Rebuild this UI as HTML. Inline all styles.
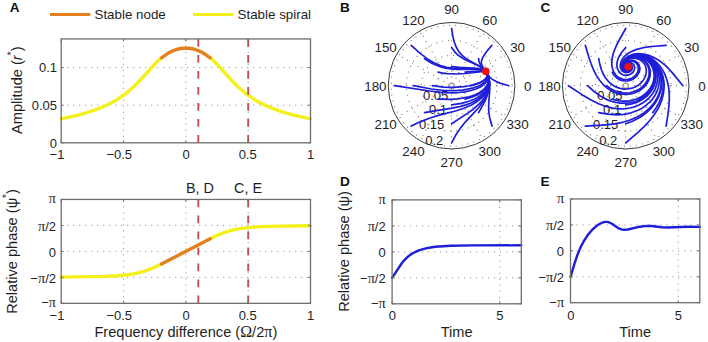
<!DOCTYPE html>
<html><head><meta charset="utf-8"><style>
html,body{margin:0;padding:0;background:#fff;width:708px;height:342px;overflow:hidden}
svg{display:block;font-family:"Liberation Sans",sans-serif}
</style></head><body>
<svg width="708" height="342" viewBox="0 0 708 342">
<rect width="708" height="342" fill="#fff"/>
<text x="9.7" y="11.6" font-size="13.6" text-anchor="start" fill="#111" font-weight="bold">A</text>
<text x="340" y="11.7" font-size="13.6" text-anchor="start" fill="#111" font-weight="bold">B</text>
<text x="540.4" y="11.8" font-size="13.6" text-anchor="start" fill="#111" font-weight="bold">C</text>
<text x="339.9" y="185.8" font-size="13.6" text-anchor="start" fill="#111" font-weight="bold">D</text>
<text x="540.5" y="185.7" font-size="13.6" text-anchor="start" fill="#111" font-weight="bold">E</text>
<line x1="50" y1="14.5" x2="90.3" y2="14.5" stroke="#e4801e" stroke-width="3.2"/>
<text x="94.5" y="19" font-size="13.35" text-anchor="start" fill="#1e1e1e">Stable node</text>
<line x1="193" y1="14.5" x2="233.4" y2="14.5" stroke="#f4f01c" stroke-width="3.2"/>
<text x="237.6" y="19" font-size="13.35" text-anchor="start" fill="#1e1e1e">Stable spiral</text>
<line x1="123.52" y1="142.8" x2="123.52" y2="38.95" stroke="#8a8a8a" stroke-width="1" stroke-dasharray="1 5"/>
<line x1="185.85" y1="142.8" x2="185.85" y2="38.95" stroke="#8a8a8a" stroke-width="1" stroke-dasharray="1 5"/>
<line x1="248.18" y1="142.8" x2="248.18" y2="38.95" stroke="#8a8a8a" stroke-width="1" stroke-dasharray="1 5"/>
<line x1="61.2" y1="105.2" x2="310.5" y2="105.2" stroke="#8a8a8a" stroke-width="1" stroke-dasharray="1 5"/>
<line x1="61.2" y1="67.6" x2="310.5" y2="67.6" stroke="#8a8a8a" stroke-width="1" stroke-dasharray="1 5"/>
<path d="M61.2 118.9 L78.0 115.1 L85.5 113.1 L93.0 110.7 L99.2 108.4 L105.5 105.8 L111.1 103.0 L116.7 99.9 L125.4 93.9 L133.5 87.0 L140.4 80.0 L154.1 64.8 L157.8 61.1 L161.5 57.8" fill="none" stroke="#f4f01c" stroke-width="3.4" stroke-linejoin="round" stroke-linecap="round" stroke-linecap="butt"/>
<path d="M210.2 57.8 L213.9 61.1 L217.6 64.8 L231.3 80.0 L238.2 87.0 L246.3 93.9 L255.0 99.9 L260.6 103.0 L266.2 105.8 L272.5 108.4 L278.7 110.7 L286.2 113.1 L293.7 115.1 L310.5 118.9" fill="none" stroke="#f4f01c" stroke-width="3.4" stroke-linejoin="round" stroke-linecap="round" stroke-linecap="butt"/>
<path d="M161.5 57.8 L167.2 53.8 L170.3 52.0 L173.4 50.6 L176.5 49.5 L179.6 48.7 L182.7 48.2 L185.8 48.1 L189.0 48.2 L192.1 48.7 L195.2 49.5 L198.3 50.6 L201.4 52.0 L204.5 53.8 L210.2 57.8" fill="none" stroke="#e4801e" stroke-width="3.4" stroke-linejoin="round" stroke-linecap="round" stroke-linecap="butt"/>
<line x1="198.31" y1="38.95" x2="198.31" y2="142.8" stroke="#c44a50" stroke-width="1.8" stroke-dasharray="7.8 8.2"/>
<line x1="248.18" y1="38.95" x2="248.18" y2="142.8" stroke="#c44a50" stroke-width="1.8" stroke-dasharray="7.8 8.2"/>
<rect x="61.2" y="38.95" width="249.3" height="103.85" fill="none" stroke="#6e6e6e" stroke-width="1.3"/>
<line x1="61.2" y1="142.8" x2="61.2" y2="140.3" stroke="#6e6e6e" stroke-width="1"/>
<line x1="61.2" y1="38.95" x2="61.2" y2="41.45" stroke="#6e6e6e" stroke-width="1"/>
<line x1="123.52" y1="142.8" x2="123.52" y2="140.3" stroke="#6e6e6e" stroke-width="1"/>
<line x1="123.52" y1="38.95" x2="123.52" y2="41.45" stroke="#6e6e6e" stroke-width="1"/>
<line x1="185.85" y1="142.8" x2="185.85" y2="140.3" stroke="#6e6e6e" stroke-width="1"/>
<line x1="185.85" y1="38.95" x2="185.85" y2="41.45" stroke="#6e6e6e" stroke-width="1"/>
<line x1="248.18" y1="142.8" x2="248.18" y2="140.3" stroke="#6e6e6e" stroke-width="1"/>
<line x1="248.18" y1="38.95" x2="248.18" y2="41.45" stroke="#6e6e6e" stroke-width="1"/>
<line x1="310.5" y1="142.8" x2="310.5" y2="140.3" stroke="#6e6e6e" stroke-width="1"/>
<line x1="310.5" y1="38.95" x2="310.5" y2="41.45" stroke="#6e6e6e" stroke-width="1"/>
<line x1="61.2" y1="142.8" x2="63.7" y2="142.8" stroke="#6e6e6e" stroke-width="1"/>
<line x1="310.5" y1="142.8" x2="308" y2="142.8" stroke="#6e6e6e" stroke-width="1"/>
<line x1="61.2" y1="105.2" x2="63.7" y2="105.2" stroke="#6e6e6e" stroke-width="1"/>
<line x1="310.5" y1="105.2" x2="308" y2="105.2" stroke="#6e6e6e" stroke-width="1"/>
<line x1="61.2" y1="67.6" x2="63.7" y2="67.6" stroke="#6e6e6e" stroke-width="1"/>
<line x1="310.5" y1="67.6" x2="308" y2="67.6" stroke="#6e6e6e" stroke-width="1"/>
<text x="57" y="159.1" font-size="13" text-anchor="middle" fill="#1e1e1e">−1</text>
<text x="119.22" y="159.1" font-size="13" text-anchor="middle" fill="#1e1e1e">−0.5</text>
<text x="186.1" y="159.1" font-size="13" text-anchor="middle" fill="#1e1e1e">0</text>
<text x="247.68" y="159.1" font-size="13" text-anchor="middle" fill="#1e1e1e">0.5</text>
<text x="310.5" y="159.1" font-size="13" text-anchor="middle" fill="#1e1e1e">1</text>
<text x="57" y="147.5" font-size="13" text-anchor="end" fill="#1e1e1e">0</text>
<text x="57" y="109.9" font-size="13" text-anchor="end" fill="#1e1e1e">0.05</text>
<text x="57" y="72.3" font-size="13" text-anchor="end" fill="#1e1e1e">0.1</text>
<text x="22.2" y="90.2" font-size="14.6" text-anchor="middle" fill="#1e1e1e" transform="rotate(-90 22.2 90.2)">Amplitude (<tspan font-style="italic">r</tspan><tspan dy="-7.3" font-size="10">*</tspan><tspan dy="7.3">)</tspan></text>
<line x1="123.52" y1="303.35" x2="123.52" y2="199.45" stroke="#8a8a8a" stroke-width="1" stroke-dasharray="1 5"/>
<line x1="185.85" y1="303.35" x2="185.85" y2="199.45" stroke="#8a8a8a" stroke-width="1" stroke-dasharray="1 5"/>
<line x1="248.18" y1="303.35" x2="248.18" y2="199.45" stroke="#8a8a8a" stroke-width="1" stroke-dasharray="1 5"/>
<line x1="61.2" y1="277.38" x2="310.5" y2="277.38" stroke="#8a8a8a" stroke-width="1" stroke-dasharray="1 5"/>
<line x1="61.2" y1="251.4" x2="310.5" y2="251.4" stroke="#8a8a8a" stroke-width="1" stroke-dasharray="1 5"/>
<line x1="61.2" y1="225.43" x2="310.5" y2="225.43" stroke="#8a8a8a" stroke-width="1" stroke-dasharray="1 5"/>
<path d="M61.2 277.1 L104.8 276.4 L117.9 275.7 L128.5 274.7 L137.2 273.2 L144.7 271.2 L152.2 268.4 L161.5 264.0" fill="none" stroke="#f4f01c" stroke-width="3.4" stroke-linejoin="round" stroke-linecap="round" stroke-linecap="butt"/>
<path d="M210.2 238.8 L219.5 234.4 L227.0 231.6 L234.5 229.6 L243.2 228.1 L253.8 227.1 L266.9 226.4 L310.5 225.7" fill="none" stroke="#f4f01c" stroke-width="3.4" stroke-linejoin="round" stroke-linecap="round" stroke-linecap="butt"/>
<path d="M161.5 264.0 L210.2 238.8" fill="none" stroke="#e4801e" stroke-width="3.4" stroke-linejoin="round" stroke-linecap="round" stroke-linecap="butt"/>
<line x1="198.31" y1="199.45" x2="198.31" y2="303.35" stroke="#c44a50" stroke-width="1.8" stroke-dasharray="7.8 8.2"/>
<line x1="248.18" y1="199.45" x2="248.18" y2="303.35" stroke="#c44a50" stroke-width="1.8" stroke-dasharray="7.8 8.2"/>
<rect x="61.2" y="199.45" width="249.3" height="103.9" fill="none" stroke="#6e6e6e" stroke-width="1.3"/>
<line x1="61.2" y1="303.35" x2="61.2" y2="300.85" stroke="#6e6e6e" stroke-width="1"/>
<line x1="61.2" y1="199.45" x2="61.2" y2="201.95" stroke="#6e6e6e" stroke-width="1"/>
<line x1="123.52" y1="303.35" x2="123.52" y2="300.85" stroke="#6e6e6e" stroke-width="1"/>
<line x1="123.52" y1="199.45" x2="123.52" y2="201.95" stroke="#6e6e6e" stroke-width="1"/>
<line x1="185.85" y1="303.35" x2="185.85" y2="300.85" stroke="#6e6e6e" stroke-width="1"/>
<line x1="185.85" y1="199.45" x2="185.85" y2="201.95" stroke="#6e6e6e" stroke-width="1"/>
<line x1="248.18" y1="303.35" x2="248.18" y2="300.85" stroke="#6e6e6e" stroke-width="1"/>
<line x1="248.18" y1="199.45" x2="248.18" y2="201.95" stroke="#6e6e6e" stroke-width="1"/>
<line x1="310.5" y1="303.35" x2="310.5" y2="300.85" stroke="#6e6e6e" stroke-width="1"/>
<line x1="310.5" y1="199.45" x2="310.5" y2="201.95" stroke="#6e6e6e" stroke-width="1"/>
<line x1="61.2" y1="303.35" x2="63.7" y2="303.35" stroke="#6e6e6e" stroke-width="1"/>
<line x1="310.5" y1="303.35" x2="308" y2="303.35" stroke="#6e6e6e" stroke-width="1"/>
<line x1="61.2" y1="277.38" x2="63.7" y2="277.38" stroke="#6e6e6e" stroke-width="1"/>
<line x1="310.5" y1="277.38" x2="308" y2="277.38" stroke="#6e6e6e" stroke-width="1"/>
<line x1="61.2" y1="251.4" x2="63.7" y2="251.4" stroke="#6e6e6e" stroke-width="1"/>
<line x1="310.5" y1="251.4" x2="308" y2="251.4" stroke="#6e6e6e" stroke-width="1"/>
<line x1="61.2" y1="225.43" x2="63.7" y2="225.43" stroke="#6e6e6e" stroke-width="1"/>
<line x1="310.5" y1="225.43" x2="308" y2="225.43" stroke="#6e6e6e" stroke-width="1"/>
<line x1="61.2" y1="199.45" x2="63.7" y2="199.45" stroke="#6e6e6e" stroke-width="1"/>
<line x1="310.5" y1="199.45" x2="308" y2="199.45" stroke="#6e6e6e" stroke-width="1"/>
<text x="57" y="319.5" font-size="13" text-anchor="middle" fill="#1e1e1e">−1</text>
<text x="119.22" y="319.5" font-size="13" text-anchor="middle" fill="#1e1e1e">−0.5</text>
<text x="186.1" y="319.5" font-size="13" text-anchor="middle" fill="#1e1e1e">0</text>
<text x="247.68" y="319.5" font-size="13" text-anchor="middle" fill="#1e1e1e">0.5</text>
<text x="310.5" y="319.5" font-size="13" text-anchor="middle" fill="#1e1e1e">1</text>
<text x="56" y="203.45" font-size="13" text-anchor="end" fill="#1e1e1e"><tspan font-family="Liberation Serif" font-size="1.1em">π</tspan></text>
<text x="56" y="230.62" font-size="13" text-anchor="end" fill="#1e1e1e"><tspan font-family="Liberation Serif" font-size="1.1em">π</tspan>/2</text>
<text x="56" y="256.6" font-size="13" text-anchor="end" fill="#1e1e1e">0</text>
<text x="56" y="282.57" font-size="13" text-anchor="end" fill="#1e1e1e">−<tspan font-family="Liberation Serif" font-size="1.1em">π</tspan>/2</text>
<text x="56" y="307.35" font-size="13" text-anchor="end" fill="#1e1e1e">−<tspan font-family="Liberation Serif" font-size="1.1em">π</tspan></text>
<text x="199.9" y="193.1" font-size="14.4" text-anchor="middle" fill="#1e1e1e">B, D</text>
<text x="248" y="193.1" font-size="14.4" text-anchor="middle" fill="#1e1e1e">C, E</text>
<text x="185.85" y="336.6" font-size="14.6" text-anchor="middle" fill="#1e1e1e">Frequency difference (<tspan font-family="Liberation Serif" font-size="1.1em">Ω</tspan>/2<tspan font-family="Liberation Serif" font-size="1.1em">π</tspan>)</text>
<text x="17.3" y="251.5" font-size="14.6" text-anchor="middle" fill="#1e1e1e" transform="rotate(-90 17.3 251.5)">Relative phase (ψ<tspan dy="-7.3" font-size="10">*</tspan><tspan dy="7.3">)</tspan></text>
<circle cx="451.6" cy="85.7" r="63.3" fill="none" stroke="#3a3a3a" stroke-width="1.0"/>
<circle cx="451.6" cy="85.7" r="15.12" fill="none" stroke="#777" stroke-width="1.2" stroke-linecap="round" stroke-dasharray="0.01 6"/>
<circle cx="451.6" cy="85.7" r="30.25" fill="none" stroke="#777" stroke-width="1.2" stroke-linecap="round" stroke-dasharray="0.01 6"/>
<circle cx="451.6" cy="85.7" r="45.38" fill="none" stroke="#777" stroke-width="1.2" stroke-linecap="round" stroke-dasharray="0.01 6"/>
<circle cx="451.6" cy="85.7" r="60.5" fill="none" stroke="#777" stroke-width="1.2" stroke-linecap="round" stroke-dasharray="0.01 6"/>
<line x1="388.3" y1="85.7" x2="514.9" y2="85.7" stroke="#777" stroke-width="1.2" stroke-dasharray="0.01 6" stroke-linecap="round"/>
<line x1="396.78" y1="117.35" x2="506.42" y2="54.05" stroke="#777" stroke-width="1.2" stroke-dasharray="0.01 6" stroke-linecap="round"/>
<line x1="419.95" y1="140.52" x2="483.25" y2="30.88" stroke="#777" stroke-width="1.2" stroke-dasharray="0.01 6" stroke-linecap="round"/>
<line x1="451.6" y1="149" x2="451.6" y2="22.4" stroke="#777" stroke-width="1.2" stroke-dasharray="0.01 6" stroke-linecap="round"/>
<line x1="483.25" y1="140.52" x2="419.95" y2="30.88" stroke="#777" stroke-width="1.2" stroke-dasharray="0.01 6" stroke-linecap="round"/>
<line x1="506.42" y1="117.35" x2="396.78" y2="54.05" stroke="#777" stroke-width="1.2" stroke-dasharray="0.01 6" stroke-linecap="round"/>
<circle cx="451.6" cy="85.7" r="2.5" fill="none" stroke="#888" stroke-width="0.8"/>
<text x="527.8" y="90.5" font-size="13.4" text-anchor="middle" fill="#1e1e1e">0</text>
<text x="517.59" y="52.4" font-size="13.4" text-anchor="middle" fill="#1e1e1e">30</text>
<text x="489.7" y="24.51" font-size="13.4" text-anchor="middle" fill="#1e1e1e">60</text>
<text x="451.6" y="14.3" font-size="13.4" text-anchor="middle" fill="#1e1e1e">90</text>
<text x="413.5" y="24.51" font-size="13.4" text-anchor="middle" fill="#1e1e1e">120</text>
<text x="385.61" y="52.4" font-size="13.4" text-anchor="middle" fill="#1e1e1e">150</text>
<text x="375.4" y="90.5" font-size="13.4" text-anchor="middle" fill="#1e1e1e">180</text>
<text x="385.61" y="128.6" font-size="13.4" text-anchor="middle" fill="#1e1e1e">210</text>
<text x="413.5" y="156.49" font-size="13.4" text-anchor="middle" fill="#1e1e1e">240</text>
<text x="451.6" y="166.7" font-size="13.4" text-anchor="middle" fill="#1e1e1e">270</text>
<text x="489.7" y="156.49" font-size="13.4" text-anchor="middle" fill="#1e1e1e">300</text>
<text x="517.59" y="128.6" font-size="13.4" text-anchor="middle" fill="#1e1e1e">330</text>
<text x="435.7" y="100.1" font-size="13" text-anchor="middle" fill="#1e1e1e">0.05</text>
<text x="438" y="113.9" font-size="13" text-anchor="middle" fill="#1e1e1e">0.1</text>
<text x="431.6" y="129.2" font-size="13" text-anchor="middle" fill="#1e1e1e">0.15</text>
<text x="434.2" y="144.6" font-size="13" text-anchor="middle" fill="#1e1e1e">0.2</text>
<path d="M470.7 85.7 L475.6 84.4 L479.5 82.9 L482.7 81.2 L485.2 79.4 L486.7 77.5 L487.3 75.6 L487.0 73.6 L485.8 71.4" fill="none" stroke="#1e1ed8" stroke-width="1.7" stroke-linejoin="round" stroke-linecap="round"/>
<path d="M465.1 72.2 L482.1 70.9 L484.8 70.9 L485.8 71.4" fill="none" stroke="#1e1ed8" stroke-width="1.7" stroke-linejoin="round" stroke-linecap="round"/>
<path d="M451.6 66.6 L459.2 67.4 L473.9 68.0 L479.1 68.5 L483.6 69.6 L484.9 70.4 L485.8 71.4" fill="none" stroke="#1e1ed8" stroke-width="1.7" stroke-linejoin="round" stroke-linecap="round"/>
<path d="M438.1 72.2 L442.6 73.1 L446.9 73.7 L456.5 74.0 L465.6 73.5 L483.6 71.4 L485.8 71.4" fill="none" stroke="#1e1ed8" stroke-width="1.7" stroke-linejoin="round" stroke-linecap="round"/>
<path d="M432.5 85.7 L443.4 87.1 L453.3 87.4 L463.7 86.7 L468.3 86.0 L473.0 84.9 L477.1 83.6 L480.7 82.2 L483.5 80.5 L485.6 78.8 L486.8 77.1 L487.2 75.3 L486.9 73.4 L485.8 71.4" fill="none" stroke="#1e1ed8" stroke-width="1.7" stroke-linejoin="round" stroke-linecap="round"/>
<path d="M438.1 99.2 L451.6 99.3 L457.1 98.9 L462.4 98.2 L467.5 97.2 L471.6 96.1 L475.8 94.5 L479.3 92.7 L482.5 90.5 L485.0 88.0 L486.9 85.5 L488.0 82.9 L488.5 80.0 L488.3 77.1 L487.4 74.2 L485.8 71.4" fill="none" stroke="#1e1ed8" stroke-width="1.7" stroke-linejoin="round" stroke-linecap="round"/>
<path d="M451.6 104.8 L461.4 103.3 L466.0 102.2 L470.2 100.8 L474.1 99.2 L477.5 97.4 L480.4 95.5 L483.1 93.2 L485.3 90.7 L486.9 88.3 L488.0 85.6 L488.7 82.7 L488.8 79.8 L488.3 76.9 L487.3 74.0 L485.8 71.4" fill="none" stroke="#1e1ed8" stroke-width="1.7" stroke-linejoin="round" stroke-linecap="round"/>
<path d="M465.1 99.2 L471.7 97.3 L477.7 94.7 L482.3 91.7 L484.2 89.9 L485.7 88.2 L487.0 86.2 L487.9 84.1 L488.4 82.0 L488.6 79.9 L488.5 77.8 L487.9 75.6 L487.0 73.4 L485.8 71.4" fill="none" stroke="#1e1ed8" stroke-width="1.7" stroke-linejoin="round" stroke-linecap="round"/>
<path d="M489.7 85.7 L489.5 81.6 L488.7 77.8 L487.5 74.4 L485.8 71.4" fill="none" stroke="#1e1ed8" stroke-width="1.7" stroke-linejoin="round" stroke-linecap="round"/>
<path d="M478.6 58.7 L479.0 61.5 L480.1 64.1 L481.7 66.4 L485.8 71.4" fill="none" stroke="#1e1ed8" stroke-width="1.7" stroke-linejoin="round" stroke-linecap="round"/>
<path d="M451.6 47.6 L455.2 52.4 L457.6 54.8 L460.0 56.6 L465.6 59.9 L476.4 64.7 L480.2 66.6 L483.6 68.9 L485.8 71.4" fill="none" stroke="#1e1ed8" stroke-width="1.7" stroke-linejoin="round" stroke-linecap="round"/>
<path d="M424.6 58.7 L430.0 62.2 L435.2 64.8 L440.3 66.7 L445.6 68.1 L451.2 68.9 L457.1 69.3 L480.4 69.4 L484.0 70.1 L485.1 70.6 L485.8 71.4" fill="none" stroke="#1e1ed8" stroke-width="1.7" stroke-linejoin="round" stroke-linecap="round"/>
<path d="M413.5 85.7 L431.3 89.0 L444.0 90.5 L450.4 90.7 L456.1 90.6 L462.4 90.1 L467.8 89.2 L473.3 87.9 L478.3 86.2 L482.3 84.0 L485.1 81.8 L486.9 79.5 L487.7 76.9 L487.3 74.2 L485.8 71.4" fill="none" stroke="#1e1ed8" stroke-width="1.7" stroke-linejoin="round" stroke-linecap="round"/>
<path d="M424.6 112.7 L433.2 111.1 L452.2 108.2 L460.7 106.4 L466.0 104.9 L470.3 103.3 L474.1 101.5 L478.0 99.2 L481.8 96.2 L484.7 93.1 L486.9 89.6 L488.3 86.1 L488.9 82.3 L488.7 78.5 L487.7 74.8 L485.8 71.4" fill="none" stroke="#1e1ed8" stroke-width="1.7" stroke-linejoin="round" stroke-linecap="round"/>
<path d="M451.6 123.8 L467.8 113.1 L473.9 108.7 L480.0 103.2 L482.3 100.5 L484.5 97.5 L486.4 94.3 L487.9 90.8 L488.8 87.4 L489.2 83.9 L489.1 80.5 L488.5 77.2 L487.4 74.2 L485.8 71.4" fill="none" stroke="#1e1ed8" stroke-width="1.7" stroke-linejoin="round" stroke-linecap="round"/>
<path d="M478.6 112.7 L483.1 104.7 L485.8 99.3 L487.8 94.0 L489.0 89.2 L489.5 84.2 L489.1 79.5 L487.8 75.2 L485.8 71.4" fill="none" stroke="#1e1ed8" stroke-width="1.7" stroke-linejoin="round" stroke-linecap="round"/>
<path d="M508.8 85.7 L500.0 83.1 L496.4 81.6 L493.5 80.1 L491.4 78.6 L489.5 76.8 L485.8 71.4" fill="none" stroke="#1e1ed8" stroke-width="1.7" stroke-linejoin="round" stroke-linecap="round"/>
<path d="M492.0 45.3 L487.8 50.1 L484.9 53.9 L482.8 57.4 L481.6 60.5 L481.3 63.0 L481.9 65.5 L483.1 67.7 L485.8 71.4" fill="none" stroke="#1e1ed8" stroke-width="1.7" stroke-linejoin="round" stroke-linecap="round"/>
<path d="M451.6 28.5 L452.9 36.6 L454.5 42.9 L456.8 48.3 L459.4 52.4 L462.1 55.3 L465.3 57.9 L469.2 60.4 L480.9 66.9 L483.8 69.1 L485.8 71.4" fill="none" stroke="#1e1ed8" stroke-width="1.7" stroke-linejoin="round" stroke-linecap="round"/>
<path d="M411.2 45.3 L419.6 52.9 L427.1 58.7 L434.0 62.8 L440.4 65.6 L446.7 67.3 L454.1 68.3 L461.2 68.7 L475.8 68.8 L480.6 69.2 L484.1 70.0 L485.1 70.6 L485.8 71.4" fill="none" stroke="#1e1ed8" stroke-width="1.7" stroke-linejoin="round" stroke-linecap="round"/>
<path d="M394.4 85.7 L429.5 91.0 L440.8 92.3 L447.4 92.7 L453.2 92.8 L459.0 92.5 L464.7 91.8 L471.1 90.5 L476.6 88.7 L481.3 86.4 L484.8 83.7 L487.0 81.0 L487.6 79.5 L487.9 77.9 L487.9 76.4 L487.5 74.7 L485.8 71.4" fill="none" stroke="#1e1ed8" stroke-width="1.7" stroke-linejoin="round" stroke-linecap="round"/>
<path d="M411.2 126.1 L420.7 121.6 L430.1 118.0 L438.4 115.4 L456.4 110.7 L464.6 108.0 L471.9 104.8 L477.8 101.1 L481.7 97.9 L484.6 94.6 L486.9 90.9 L488.4 86.8 L489.1 82.9 L488.8 78.8 L487.7 74.9 L485.8 71.4" fill="none" stroke="#1e1ed8" stroke-width="1.7" stroke-linejoin="round" stroke-linecap="round"/>
<path d="M451.6 142.9 L456.0 134.7 L460.4 128.1 L465.5 121.8 L475.5 111.2 L479.6 106.5 L483.4 101.3 L486.2 96.2 L487.6 93.0 L488.6 89.6 L489.2 86.4 L489.4 83.1 L489.1 79.9 L488.4 76.8 L487.3 73.9 L485.8 71.4" fill="none" stroke="#1e1ed8" stroke-width="1.7" stroke-linejoin="round" stroke-linecap="round"/>
<path d="M492.0 126.1 L489.7 117.9 L489.1 113.9 L488.7 109.8 L488.7 103.3 L489.8 89.2 L489.6 82.5 L489.1 79.3 L488.3 76.4 L487.2 73.7 L485.8 71.4" fill="none" stroke="#1e1ed8" stroke-width="1.7" stroke-linejoin="round" stroke-linecap="round"/>
<circle cx="485.84" cy="71.4" r="3.8" fill="#f01010"/>
<circle cx="625.7" cy="85.7" r="63.3" fill="none" stroke="#3a3a3a" stroke-width="1.0"/>
<circle cx="625.7" cy="85.7" r="15.12" fill="none" stroke="#777" stroke-width="1.2" stroke-linecap="round" stroke-dasharray="0.01 6"/>
<circle cx="625.7" cy="85.7" r="30.25" fill="none" stroke="#777" stroke-width="1.2" stroke-linecap="round" stroke-dasharray="0.01 6"/>
<circle cx="625.7" cy="85.7" r="45.38" fill="none" stroke="#777" stroke-width="1.2" stroke-linecap="round" stroke-dasharray="0.01 6"/>
<circle cx="625.7" cy="85.7" r="60.5" fill="none" stroke="#777" stroke-width="1.2" stroke-linecap="round" stroke-dasharray="0.01 6"/>
<line x1="562.4" y1="85.7" x2="689" y2="85.7" stroke="#777" stroke-width="1.2" stroke-dasharray="0.01 6" stroke-linecap="round"/>
<line x1="570.88" y1="117.35" x2="680.52" y2="54.05" stroke="#777" stroke-width="1.2" stroke-dasharray="0.01 6" stroke-linecap="round"/>
<line x1="594.05" y1="140.52" x2="657.35" y2="30.88" stroke="#777" stroke-width="1.2" stroke-dasharray="0.01 6" stroke-linecap="round"/>
<line x1="625.7" y1="149" x2="625.7" y2="22.4" stroke="#777" stroke-width="1.2" stroke-dasharray="0.01 6" stroke-linecap="round"/>
<line x1="657.35" y1="140.52" x2="594.05" y2="30.88" stroke="#777" stroke-width="1.2" stroke-dasharray="0.01 6" stroke-linecap="round"/>
<line x1="680.52" y1="117.35" x2="570.88" y2="54.05" stroke="#777" stroke-width="1.2" stroke-dasharray="0.01 6" stroke-linecap="round"/>
<circle cx="625.7" cy="85.7" r="2.5" fill="none" stroke="#888" stroke-width="0.8"/>
<text x="701.9" y="90.5" font-size="13.4" text-anchor="middle" fill="#1e1e1e">0</text>
<text x="691.69" y="52.4" font-size="13.4" text-anchor="middle" fill="#1e1e1e">30</text>
<text x="663.8" y="24.51" font-size="13.4" text-anchor="middle" fill="#1e1e1e">60</text>
<text x="625.7" y="14.3" font-size="13.4" text-anchor="middle" fill="#1e1e1e">90</text>
<text x="587.6" y="24.51" font-size="13.4" text-anchor="middle" fill="#1e1e1e">120</text>
<text x="559.71" y="52.4" font-size="13.4" text-anchor="middle" fill="#1e1e1e">150</text>
<text x="549.5" y="90.5" font-size="13.4" text-anchor="middle" fill="#1e1e1e">180</text>
<text x="559.71" y="128.6" font-size="13.4" text-anchor="middle" fill="#1e1e1e">210</text>
<text x="587.6" y="156.49" font-size="13.4" text-anchor="middle" fill="#1e1e1e">240</text>
<text x="625.7" y="166.7" font-size="13.4" text-anchor="middle" fill="#1e1e1e">270</text>
<text x="663.8" y="156.49" font-size="13.4" text-anchor="middle" fill="#1e1e1e">300</text>
<text x="691.69" y="128.6" font-size="13.4" text-anchor="middle" fill="#1e1e1e">330</text>
<text x="609.8" y="100.1" font-size="13" text-anchor="middle" fill="#1e1e1e">0.05</text>
<text x="612.1" y="113.9" font-size="13" text-anchor="middle" fill="#1e1e1e">0.1</text>
<text x="605.7" y="129.2" font-size="13" text-anchor="middle" fill="#1e1e1e">0.15</text>
<text x="608.3" y="144.6" font-size="13" text-anchor="middle" fill="#1e1e1e">0.2</text>
<path d="M644.8 85.7 L646.7 83.2 L648.4 79.9 L649.4 77.1 L649.9 73.8 L649.8 70.5 L649.1 67.6 L647.9 64.9 L646.1 62.3 L644.6 60.9 L642.6 59.4 L639.0 57.7 L634.9 57.1 L631.0 57.6 L628.3 58.6 L626.2 60.0 L624.3 62.0 L623.3 64.1 L622.9 65.9 L623.1 67.5 L623.8 68.9 L625.0 70.0 L626.2 70.4 L627.6 70.4 L628.8 70.0 L629.8 69.3 L630.7 67.5 L630.7 66.6 L630.4 65.9 L629.4 65.1 L628.1 65.2 L627.3 65.8 L627.0 66.6 L627.2 67.2 L627.7 67.5 L628.5 67.1 L628.5 66.5 L628.0 66.5 L627.9 66.8 L628.1 66.8" fill="none" stroke="#1e1ed8" stroke-width="1.7" stroke-linejoin="round" stroke-linecap="round"/>
<path d="M639.2 72.2 L639.8 68.9 L639.6 67.2 L639.2 65.7 L637.7 63.1 L635.3 61.3 L633.1 60.5 L631.0 60.4 L628.7 61.0 L626.8 62.0 L625.6 63.2 L624.8 64.5 L624.4 65.9 L624.5 67.2 L625.0 68.2 L625.6 68.8 L626.5 69.3 L627.6 69.3 L629.1 68.7 L629.9 67.3 L629.8 66.3 L629.0 65.6 L628.2 65.6 L627.6 66.0 L627.3 66.6 L627.5 67.0 L628.1 67.2 L628.5 66.8 L628.2 66.5 L628.0 66.7 L628.1 66.8" fill="none" stroke="#1e1ed8" stroke-width="1.7" stroke-linejoin="round" stroke-linecap="round"/>
<path d="M625.7 66.6 L626.2 67.9 L627.4 68.4 L628.5 68.2 L629.2 67.4 L629.2 66.6 L628.8 66.1 L628.3 66.0 L627.8 66.2 L627.6 66.9 L628.1 67.1 L628.3 66.8 L628.2 66.6 L628.1 66.7" fill="none" stroke="#1e1ed8" stroke-width="1.7" stroke-linejoin="round" stroke-linecap="round"/>
<path d="M612.2 72.2 L613.5 74.5 L615.4 76.7 L617.6 78.5 L620.1 79.9 L622.3 80.6 L625.0 81.0 L627.7 80.9 L630.4 80.2 L632.5 79.4 L634.4 78.2 L636.0 76.8 L637.6 74.8 L638.6 73.0 L639.3 70.9 L639.5 69.1 L639.4 67.1 L638.4 64.4 L636.8 62.5 L634.6 61.1 L631.8 60.5 L629.8 60.7 L627.9 61.4 L626.2 62.6 L625.1 64.0 L624.6 65.3 L624.5 66.5 L624.7 67.7 L625.4 68.6 L627.0 69.3 L628.0 69.2 L628.8 68.8 L629.8 67.7 L629.8 66.4 L629.2 65.7 L628.3 65.6 L627.7 65.9 L627.4 66.5 L627.4 66.9 L627.7 67.2 L628.4 67.1 L628.4 66.6 L628.1 66.5 L628.1 66.8" fill="none" stroke="#1e1ed8" stroke-width="1.7" stroke-linejoin="round" stroke-linecap="round"/>
<path d="M606.6 85.7 L610.2 88.4 L614.7 90.8 L619.6 92.4 L624.5 93.1 L629.6 92.8 L633.6 91.8 L638.1 89.9 L642.1 87.1 L644.3 84.9 L646.5 81.8 L648.1 78.6 L649.0 75.3 L649.2 72.1 L648.9 69.0 L648.0 66.3 L646.4 63.5 L645.1 61.9 L643.3 60.2 L639.8 58.3 L635.8 57.3 L631.8 57.5 L629.0 58.4 L626.7 59.7 L624.7 61.6 L623.5 63.6 L623.0 65.5 L623.1 67.1 L623.7 68.6 L624.8 69.8 L626.0 70.3 L627.3 70.4 L628.5 70.1 L629.7 69.3 L630.7 67.7 L630.7 66.8 L630.4 65.9 L629.4 65.2 L628.2 65.2 L627.4 65.7 L627.0 66.5 L627.2 67.1 L627.7 67.5 L628.2 67.4 L628.5 67.1 L628.4 66.5 L628.0 66.5 L627.9 66.8 L628.1 66.8" fill="none" stroke="#1e1ed8" stroke-width="1.7" stroke-linejoin="round" stroke-linecap="round"/>
<path d="M612.2 99.2 L618.8 100.8 L624.3 101.2 L627.6 101.1 L630.8 100.6 L635.9 99.2 L640.7 97.0 L643.3 95.4 L645.7 93.5 L649.0 89.9 L650.7 87.5 L652.0 85.1 L653.3 81.8 L654.0 78.5 L654.2 75.3 L653.8 71.5 L652.8 68.0 L651.2 65.0 L649.3 62.4 L646.7 60.0 L643.0 57.8 L638.7 56.5 L634.4 56.2 L630.2 57.1 L627.5 58.4 L625.4 60.0 L623.7 62.2 L622.8 64.5 L622.6 66.4 L623.0 68.0 L623.8 69.4 L625.2 70.4 L626.5 70.7 L627.9 70.6 L629.2 70.1 L630.2 69.1 L630.8 68.2 L631.0 67.2 L630.8 66.3 L630.4 65.6 L629.2 64.9 L627.9 65.2 L627.2 65.9 L626.9 66.7 L627.2 67.3 L627.8 67.6 L628.3 67.4 L628.6 67.0 L628.4 66.4 L628.0 66.5 L627.9 66.8 L628.1 66.8" fill="none" stroke="#1e1ed8" stroke-width="1.7" stroke-linejoin="round" stroke-linecap="round"/>
<path d="M625.7 104.8 L631.6 103.9 L637.2 102.2 L642.3 99.6 L646.7 96.3 L650.3 92.4 L653.1 88.2 L654.9 83.7 L655.5 81.0 L655.9 78.4 L655.8 75.0 L655.3 71.8 L654.4 68.8 L652.8 65.6 L650.8 62.8 L648.5 60.6 L646.1 58.8 L643.1 57.3 L638.7 56.1 L634.7 55.9 L630.8 56.7 L627.3 58.3 L625.2 60.0 L623.6 62.1 L622.7 64.4 L622.5 66.5 L622.9 68.1 L623.7 69.4 L625.0 70.4 L626.6 70.8 L627.9 70.7 L629.2 70.2 L630.2 69.3 L630.8 68.2 L631.0 67.3 L630.9 66.4 L630.5 65.6 L629.9 65.1 L628.6 64.9 L627.5 65.4 L627.0 66.2 L627.0 67.1 L627.4 67.5 L628.0 67.5 L628.7 66.9 L628.3 66.4 L627.9 66.6 L627.9 66.9 L628.1 66.8" fill="none" stroke="#1e1ed8" stroke-width="1.7" stroke-linejoin="round" stroke-linecap="round"/>
<path d="M639.2 99.2 L642.9 97.0 L647.0 93.8 L649.6 90.7 L652.2 86.7 L653.9 82.4 L654.8 78.1 L654.8 74.1 L653.9 69.6 L652.8 66.9 L651.4 64.6 L649.9 62.5 L647.6 60.4 L645.3 58.7 L642.9 57.5 L640.5 56.7 L637.6 56.2 L633.8 56.2 L630.4 57.0 L627.4 58.4 L624.9 60.5 L623.5 62.5 L622.7 64.6 L622.6 66.7 L623.1 68.4 L624.0 69.6 L625.3 70.5 L626.7 70.8 L628.3 70.5 L629.4 70.0 L630.2 69.2 L630.8 68.1 L631.0 67.0 L630.4 65.5 L629.1 64.9 L627.9 65.2 L627.1 66.0 L626.9 66.7 L627.3 67.4 L627.8 67.6 L628.3 67.4 L628.6 66.6 L628.2 66.4 L627.9 66.7 L628.0 66.9 L628.1 66.8" fill="none" stroke="#1e1ed8" stroke-width="1.7" stroke-linejoin="round" stroke-linecap="round"/>
<path d="M663.8 85.7 L663.5 81.1 L662.7 76.8 L661.5 72.9 L659.9 69.4 L657.5 65.7 L654.8 62.5 L651.9 60.0 L648.3 57.7 L643.6 55.8 L638.7 54.9 L633.9 55.2 L629.5 56.5 L626.7 58.1 L624.5 60.2 L622.9 62.7 L622.2 65.1 L622.2 67.0 L622.8 68.7 L623.9 70.0 L625.5 70.9 L626.9 71.1 L628.4 70.8 L629.7 70.1 L630.6 69.1 L631.1 68.0 L631.2 67.0 L631.0 66.0 L630.5 65.3 L629.1 64.8 L627.8 65.1 L627.0 65.9 L626.8 66.8 L627.2 67.4 L627.8 67.6 L628.3 67.4 L628.7 67.0 L628.4 66.4 L627.9 66.5 L627.9 66.8 L628.1 66.8" fill="none" stroke="#1e1ed8" stroke-width="1.7" stroke-linejoin="round" stroke-linecap="round"/>
<path d="M652.7 58.7 L647.4 56.1 L644.9 55.3 L641.8 54.6 L639.0 54.4 L636.4 54.4 L633.9 54.7 L631.3 55.4 L628.1 56.9 L625.5 58.7 L623.4 61.2 L622.3 63.8 L621.9 66.0 L622.2 67.9 L623.1 69.5 L624.6 70.7 L626.0 71.2 L627.7 71.2 L629.1 70.6 L630.4 69.6 L631.1 68.6 L631.3 67.5 L631.2 66.4 L630.8 65.5 L629.5 64.7 L628.0 64.9 L627.1 65.7 L626.8 66.7 L627.1 67.4 L627.7 67.6 L628.3 67.5 L628.7 67.1 L628.5 66.4 L628.0 66.5 L627.9 66.8 L628.1 66.9 L628.1 66.7" fill="none" stroke="#1e1ed8" stroke-width="1.7" stroke-linejoin="round" stroke-linecap="round"/>
<path d="M625.7 47.6 L621.4 52.7 L618.7 57.3 L617.8 59.6 L617.1 62.3 L616.9 64.4 L617.0 66.7 L617.4 68.4 L618.1 70.3 L620.1 73.0 L622.8 74.7 L624.4 75.2 L626.1 75.3 L628.8 74.9 L631.4 73.6 L633.4 71.6 L634.5 69.0 L634.6 67.2 L634.2 65.4 L633.1 64.0 L631.6 63.1 L630.3 62.8 L629.0 62.9 L627.7 63.4 L626.7 64.2 L625.7 65.9 L625.7 66.8 L626.0 67.5 L626.9 68.3 L628.2 68.3 L629.0 67.7 L629.3 66.8 L629.0 66.3 L628.5 66.0 L627.7 66.4 L627.8 67.0 L628.2 67.0 L628.3 66.7 L628.1 66.7" fill="none" stroke="#1e1ed8" stroke-width="1.7" stroke-linejoin="round" stroke-linecap="round"/>
<path d="M598.7 58.7 L599.9 64.6 L601.3 69.5 L603.1 73.8 L605.7 78.2 L608.7 81.8 L612.1 84.7 L615.9 86.9 L620.0 88.4 L624.2 89.1 L627.7 89.0 L631.9 88.2 L635.2 87.0 L638.3 85.3 L641.4 82.6 L643.8 79.5 L645.4 76.2 L646.0 73.9 L646.3 71.1 L646.2 69.0 L645.6 66.5 L644.6 64.3 L643.2 62.5 L641.7 61.0 L639.7 59.6 L636.5 58.4 L633.4 58.1 L630.3 58.5 L627.5 59.8 L625.7 61.1 L624.3 62.8 L623.5 64.7 L623.4 66.5 L623.7 67.9 L624.5 69.1 L625.5 69.8 L626.9 70.2 L628.0 70.0 L629.0 69.6 L629.8 68.9 L630.4 67.9 L630.4 66.4 L629.6 65.4 L628.5 65.2 L627.6 65.6 L627.1 66.3 L627.2 67.0 L627.6 67.4 L628.1 67.4 L628.6 66.8 L628.3 66.4 L628.0 66.6 L627.9 66.8 L628.1 66.7" fill="none" stroke="#1e1ed8" stroke-width="1.7" stroke-linejoin="round" stroke-linecap="round"/>
<path d="M587.6 85.7 L593.5 91.0 L600.3 96.0 L606.0 99.1 L609.5 100.6 L613.0 101.7 L616.5 102.5 L620.0 103.1 L625.8 103.2 L629.2 102.8 L632.6 102.2 L635.8 101.2 L638.9 99.9 L642.7 97.8 L646.9 94.5 L650.3 90.7 L652.8 86.5 L654.4 82.2 L655.1 77.9 L655.0 73.8 L654.0 69.3 L652.9 66.7 L651.5 64.3 L649.8 62.3 L647.6 60.2 L645.2 58.5 L642.8 57.4 L640.3 56.6 L637.5 56.1 L633.6 56.2 L630.3 57.0 L627.2 58.5 L624.8 60.5 L623.4 62.6 L622.7 64.7 L622.6 66.7 L623.1 68.5 L624.0 69.7 L625.3 70.5 L626.8 70.8 L628.3 70.5 L629.4 70.0 L630.3 69.1 L630.8 68.1 L631.0 67.0 L630.4 65.5 L629.0 64.9 L627.9 65.1 L627.1 65.9 L626.9 66.7 L627.2 67.4 L627.8 67.6 L628.4 67.4 L628.6 66.6 L628.1 66.4 L627.9 66.7 L628.0 66.9 L628.2 66.8 L628.1 66.8" fill="none" stroke="#1e1ed8" stroke-width="1.7" stroke-linejoin="round" stroke-linecap="round"/>
<path d="M598.7 112.7 L607.7 114.2 L616.1 114.8 L623.9 114.3 L631.2 112.8 L638.0 110.3 L641.7 108.4 L645.1 106.2 L650.0 101.9 L652.5 99.1 L654.6 96.1 L656.7 92.0 L658.2 87.8 L659.1 83.6 L659.3 78.6 L658.6 74.0 L657.3 69.9 L655.5 66.3 L652.7 62.7 L650.7 60.7 L648.6 59.1 L646.4 57.8 L643.7 56.6 L641.0 55.9 L638.5 55.5 L636.1 55.4 L633.4 55.7 L630.0 56.6 L627.2 58.1 L624.7 60.3 L623.1 62.7 L622.4 64.8 L622.3 66.8 L622.9 68.6 L624.1 70.0 L625.3 70.7 L626.9 71.0 L628.3 70.7 L629.7 69.9 L630.5 69.0 L631.0 68.0 L631.1 67.0 L630.9 66.0 L629.7 65.0 L628.3 64.9 L627.3 65.5 L626.9 66.4 L627.0 67.1 L627.5 67.6 L628.1 67.5 L628.6 67.2 L628.5 66.5 L628.0 66.4 L627.9 66.7 L628.0 66.9 L628.2 66.8 L628.1 66.8" fill="none" stroke="#1e1ed8" stroke-width="1.7" stroke-linejoin="round" stroke-linecap="round"/>
<path d="M625.7 123.8 L632.5 121.2 L640.1 117.2 L645.4 113.5 L651.0 108.4 L655.4 102.8 L658.6 96.9 L660.6 91.0 L661.3 87.6 L661.6 84.2 L661.5 79.9 L660.9 75.9 L659.8 72.2 L658.4 68.9 L656.1 65.3 L653.6 62.3 L650.8 59.9 L647.4 57.7 L642.9 55.9 L638.2 55.1 L633.5 55.4 L629.3 56.8 L626.6 58.4 L624.4 60.5 L622.9 62.9 L622.2 65.2 L622.3 67.2 L622.9 68.8 L624.0 70.1 L625.6 70.9 L627.0 71.0 L628.5 70.7 L629.8 70.0 L630.7 69.0 L631.1 67.9 L631.2 66.9 L630.9 66.0 L630.4 65.3 L629.1 64.8 L627.7 65.1 L627.0 65.9 L626.9 66.9 L627.2 67.4 L627.8 67.6 L628.4 67.4 L628.7 67.0 L628.4 66.4 L627.9 66.5 L627.9 66.8 L628.1 66.8" fill="none" stroke="#1e1ed8" stroke-width="1.7" stroke-linejoin="round" stroke-linecap="round"/>
<path d="M652.7 112.7 L656.3 107.5 L659.2 102.3 L661.3 97.1 L662.8 90.7 L663.3 84.7 L662.8 79.1 L661.5 74.1 L659.3 68.9 L657.4 65.9 L655.3 63.3 L653.1 61.2 L650.7 59.3 L647.8 57.6 L644.9 56.3 L642.1 55.5 L638.8 55.0 L634.5 55.1 L630.7 56.0 L627.4 57.7 L624.7 59.9 L623.1 62.2 L622.3 64.4 L622.2 66.6 L622.7 68.5 L623.6 69.8 L625.0 70.7 L626.6 71.1 L628.3 70.8 L629.5 70.2 L630.4 69.4 L631.0 68.3 L631.2 67.0 L631.0 66.1 L630.6 65.5 L629.2 64.8 L627.9 65.0 L627.0 65.9 L626.8 66.7 L627.2 67.4 L627.8 67.6 L628.3 67.4 L628.7 66.6 L628.2 66.4 L627.8 66.7 L628.0 66.9 L628.1 66.8" fill="none" stroke="#1e1ed8" stroke-width="1.7" stroke-linejoin="round" stroke-linecap="round"/>
<path d="M682.9 85.7 L672.4 72.9 L668.6 68.7 L665.0 65.2 L661.5 62.3 L657.4 59.4 L653.4 57.2 L649.0 55.3 L643.5 54.0 L638.0 53.7 L632.9 54.4 L628.5 56.2 L625.8 58.1 L623.6 60.5 L622.2 63.1 L621.7 65.7 L622.0 67.7 L622.8 69.5 L624.2 70.7 L625.9 71.3 L627.5 71.4 L629.0 70.8 L630.3 69.9 L631.1 68.8 L631.5 67.6 L631.4 66.6 L631.0 65.7 L630.4 65.0 L628.9 64.6 L627.5 65.1 L626.8 66.0 L626.8 67.0 L627.3 67.5 L627.9 67.7 L628.5 67.4 L628.7 67.0 L628.4 66.3 L627.9 66.5 L627.9 66.9 L628.1 66.8" fill="none" stroke="#1e1ed8" stroke-width="1.7" stroke-linejoin="round" stroke-linecap="round"/>
<path d="M666.1 45.3 L651.7 46.5 L643.1 47.7 L635.9 49.6 L630.0 52.2 L626.1 54.8 L623.3 57.7 L621.2 61.1 L620.3 64.4 L620.3 67.1 L621.2 69.5 L622.7 71.3 L624.8 72.4 L626.7 72.6 L628.7 72.2 L630.5 71.2 L631.8 69.7 L632.3 68.2 L632.4 66.9 L632.0 65.6 L631.2 64.7 L629.5 64.0 L627.6 64.6 L626.6 65.6 L626.4 66.9 L626.9 67.7 L627.8 67.9 L628.5 67.6 L628.9 67.1 L628.9 66.6 L628.5 66.3 L627.9 66.4 L627.8 66.9 L628.1 67.0 L628.1 66.7" fill="none" stroke="#1e1ed8" stroke-width="1.7" stroke-linejoin="round" stroke-linecap="round"/>
<path d="M625.7 28.5 L618.7 41.0 L616.4 45.5 L614.4 50.3 L613.0 54.4 L612.2 58.2 L611.8 61.6 L611.8 64.6 L612.2 67.4 L613.0 70.4 L614.1 72.6 L615.6 74.8 L617.2 76.4 L619.2 77.9 L621.5 78.9 L624.0 79.5 L626.0 79.6 L628.1 79.4 L630.1 78.9 L632.3 77.9 L634.0 76.8 L635.7 75.2 L637.0 73.4 L637.9 71.4 L638.4 68.5 L637.9 65.6 L636.5 63.4 L634.4 61.8 L632.5 61.1 L630.6 61.0 L628.5 61.5 L626.8 62.5 L625.7 63.6 L625.0 64.8 L624.7 66.1 L624.9 67.2 L625.3 68.1 L626.0 68.7 L626.8 69.1 L627.8 69.1 L629.1 68.4 L629.8 67.2 L629.6 66.3 L628.9 65.7 L628.2 65.7 L627.6 66.1 L627.4 66.6 L627.5 67.0 L628.2 67.2 L628.4 66.7 L628.2 66.5 L628.1 66.7" fill="none" stroke="#1e1ed8" stroke-width="1.7" stroke-linejoin="round" stroke-linecap="round"/>
<path d="M585.3 45.3 L588.6 56.5 L590.9 63.2 L593.6 70.0 L596.5 75.6 L599.6 80.3 L603.6 85.0 L607.2 88.2 L611.9 91.1 L616.9 93.2 L621.2 94.2 L626.5 94.5 L630.9 94.0 L635.1 92.8 L639.7 90.5 L643.7 87.4 L646.8 83.7 L648.3 81.0 L649.6 77.6 L650.1 74.8 L650.1 71.5 L649.6 68.4 L648.5 65.7 L647.1 63.3 L645.0 61.0 L641.8 58.7 L638.0 57.4 L634.0 57.0 L630.2 57.7 L627.7 58.9 L625.7 60.4 L624.0 62.4 L623.1 64.5 L622.9 66.3 L623.2 67.9 L624.0 69.2 L625.3 70.1 L626.5 70.5 L627.9 70.4 L629.1 69.9 L630.1 69.0 L630.8 67.2 L630.7 66.4 L630.3 65.7 L629.2 65.1 L628.0 65.2 L627.3 65.8 L627.0 66.6 L627.2 67.2 L627.8 67.5 L628.6 67.0 L628.4 66.5 L628.0 66.5 L627.9 66.8 L628.1 66.9 L628.1 66.7" fill="none" stroke="#1e1ed8" stroke-width="1.7" stroke-linejoin="round" stroke-linecap="round"/>
<path d="M568.5 85.7 L581.6 94.4 L590.2 99.6 L597.9 103.5 L605.2 106.3 L612.3 108.1 L619.3 108.8 L626.0 108.6 L629.9 108.0 L633.7 107.1 L638.5 105.3 L643.8 102.3 L648.5 98.5 L652.2 94.2 L654.9 89.6 L656.7 84.7 L657.5 80.0 L657.2 74.6 L656.5 71.3 L655.4 68.3 L653.9 65.7 L652.3 63.3 L649.9 60.9 L647.4 59.0 L644.8 57.5 L641.7 56.4 L637.2 55.7 L633.3 55.9 L629.6 57.0 L626.4 58.8 L624.5 60.7 L623.1 62.8 L622.4 65.1 L622.5 67.1 L623.1 68.7 L624.2 70.0 L625.5 70.7 L627.2 70.9 L628.5 70.6 L629.6 69.9 L630.5 69.0 L631.0 67.8 L631.1 66.8 L630.8 66.0 L630.3 65.4 L629.6 65.0 L628.4 64.9 L627.3 65.5 L626.9 66.4 L627.0 67.2 L627.5 67.5 L628.1 67.5 L628.7 66.8 L628.3 66.4 L627.9 66.6 L627.9 66.9 L628.2 66.9 L628.1 66.7" fill="none" stroke="#1e1ed8" stroke-width="1.7" stroke-linejoin="round" stroke-linecap="round"/>
<path d="M585.3 126.1 L602.0 125.2 L613.0 124.1 L622.6 122.3 L629.4 120.3 L637.2 117.0 L643.9 112.9 L649.6 108.1 L654.2 102.8 L657.0 98.3 L659.1 93.7 L660.4 89.1 L661.2 83.6 L661.0 78.3 L660.0 73.6 L658.3 69.4 L655.7 65.1 L653.7 62.7 L651.6 60.7 L649.3 59.0 L646.5 57.4 L643.7 56.3 L641.0 55.6 L638.4 55.2 L635.5 55.2 L631.6 55.9 L628.5 57.2 L625.7 59.1 L623.7 61.4 L622.6 63.6 L622.2 65.7 L622.5 67.8 L623.3 69.4 L624.5 70.4 L626.0 70.9 L627.5 71.0 L629.0 70.4 L630.1 69.7 L630.8 68.7 L631.2 67.6 L631.1 66.4 L630.2 65.2 L628.7 64.8 L627.6 65.2 L626.9 66.1 L626.9 66.9 L627.3 67.5 L627.9 67.6 L628.5 67.3 L628.6 66.5 L628.1 66.4 L627.8 66.7 L628.0 66.9 L628.2 66.8 L628.1 66.8" fill="none" stroke="#1e1ed8" stroke-width="1.7" stroke-linejoin="round" stroke-linecap="round"/>
<path d="M625.7 142.9 L638.0 132.3 L644.4 126.3 L649.8 120.5 L654.2 114.8 L658.6 107.7 L661.6 100.7 L663.4 93.9 L664.1 87.5 L664.0 82.8 L663.3 78.3 L662.2 74.3 L660.7 70.6 L658.3 66.6 L655.7 63.3 L652.8 60.6 L649.2 58.2 L644.5 56.0 L639.5 55.0 L634.5 55.1 L630.0 56.3 L627.1 57.8 L624.9 59.7 L623.1 62.1 L622.3 64.6 L622.2 66.6 L622.6 68.3 L623.6 69.8 L625.1 70.8 L626.6 71.1 L628.1 70.9 L629.5 70.3 L630.6 69.2 L631.1 68.2 L631.2 67.1 L631.1 66.2 L630.6 65.4 L629.2 64.8 L627.8 65.0 L627.0 65.8 L626.8 66.8 L627.2 67.4 L627.8 67.6 L628.3 67.5 L628.7 67.0 L628.4 66.4 L627.9 66.5 L627.9 66.8 L628.1 66.8" fill="none" stroke="#1e1ed8" stroke-width="1.7" stroke-linejoin="round" stroke-linecap="round"/>
<path d="M666.1 126.1 L668.0 114.2 L668.9 106.2 L669.3 99.1 L669.2 92.7 L668.6 87.0 L667.1 80.5 L665.1 74.9 L662.1 69.2 L659.8 66.0 L657.4 63.3 L654.9 61.0 L652.3 59.1 L649.1 57.3 L646.0 56.0 L643.0 55.1 L639.6 54.6 L634.9 54.7 L631.0 55.6 L627.6 57.3 L624.8 59.6 L623.1 61.9 L622.2 64.2 L622.0 66.5 L622.5 68.4 L623.5 69.8 L624.9 70.8 L626.5 71.2 L628.2 71.0 L629.4 70.4 L630.4 69.5 L631.1 68.4 L631.3 67.1 L631.1 66.2 L630.7 65.5 L630.0 64.9 L629.2 64.7 L627.9 65.0 L627.0 65.8 L626.8 66.7 L627.2 67.4 L627.7 67.6 L628.3 67.5 L628.7 66.7 L628.2 66.4 L627.8 66.7 L628.0 66.9 L628.1 66.8" fill="none" stroke="#1e1ed8" stroke-width="1.7" stroke-linejoin="round" stroke-linecap="round"/>
<circle cx="628.11" cy="66.75" r="3.8" fill="#f01010"/>
<line x1="499.77" y1="303.8" x2="499.77" y2="199.9" stroke="#8a8a8a" stroke-width="1" stroke-dasharray="1 5"/>
<line x1="392.1" y1="277.83" x2="521.3" y2="277.83" stroke="#8a8a8a" stroke-width="1" stroke-dasharray="1 5"/>
<line x1="392.1" y1="251.85" x2="521.3" y2="251.85" stroke="#8a8a8a" stroke-width="1" stroke-dasharray="1 5"/>
<line x1="392.1" y1="225.88" x2="521.3" y2="225.88" stroke="#8a8a8a" stroke-width="1" stroke-dasharray="1 5"/>
<path d="M392.1 277.8 L401.6 263.5 L404.2 260.3 L407.2 257.3 L410.6 254.6 L414.5 252.3 L418.8 250.4 L424.0 248.8 L429.1 247.7 L435.2 246.8 L450.7 245.8 L473.1 245.4 L521.3 245.3" fill="none" stroke="#1e1ed8" stroke-width="2.4" stroke-linejoin="round" stroke-linecap="round"/>
<rect x="392.1" y="199.9" width="129.2" height="103.9" fill="none" stroke="#6e6e6e" stroke-width="1.3"/>
<line x1="392.1" y1="303.8" x2="392.1" y2="301.3" stroke="#6e6e6e" stroke-width="1"/>
<line x1="392.1" y1="199.9" x2="392.1" y2="202.4" stroke="#6e6e6e" stroke-width="1"/>
<line x1="499.77" y1="303.8" x2="499.77" y2="301.3" stroke="#6e6e6e" stroke-width="1"/>
<line x1="499.77" y1="199.9" x2="499.77" y2="202.4" stroke="#6e6e6e" stroke-width="1"/>
<line x1="392.1" y1="303.8" x2="394.6" y2="303.8" stroke="#6e6e6e" stroke-width="1"/>
<line x1="521.3" y1="303.8" x2="518.8" y2="303.8" stroke="#6e6e6e" stroke-width="1"/>
<line x1="392.1" y1="277.83" x2="394.6" y2="277.83" stroke="#6e6e6e" stroke-width="1"/>
<line x1="521.3" y1="277.83" x2="518.8" y2="277.83" stroke="#6e6e6e" stroke-width="1"/>
<line x1="392.1" y1="251.85" x2="394.6" y2="251.85" stroke="#6e6e6e" stroke-width="1"/>
<line x1="521.3" y1="251.85" x2="518.8" y2="251.85" stroke="#6e6e6e" stroke-width="1"/>
<line x1="392.1" y1="225.88" x2="394.6" y2="225.88" stroke="#6e6e6e" stroke-width="1"/>
<line x1="521.3" y1="225.88" x2="518.8" y2="225.88" stroke="#6e6e6e" stroke-width="1"/>
<line x1="392.1" y1="199.9" x2="394.6" y2="199.9" stroke="#6e6e6e" stroke-width="1"/>
<line x1="521.3" y1="199.9" x2="518.8" y2="199.9" stroke="#6e6e6e" stroke-width="1"/>
<text x="392.4" y="319.5" font-size="13" text-anchor="middle" fill="#1e1e1e">0</text>
<text x="499.77" y="319.5" font-size="13" text-anchor="middle" fill="#1e1e1e">5</text>
<text x="385.7" y="203.9" font-size="13" text-anchor="end" fill="#1e1e1e"><tspan font-family="Liberation Serif" font-size="1.1em">π</tspan></text>
<text x="385.7" y="231.08" font-size="13" text-anchor="end" fill="#1e1e1e"><tspan font-family="Liberation Serif" font-size="1.1em">π</tspan>/2</text>
<text x="385.7" y="257.05" font-size="13" text-anchor="end" fill="#1e1e1e">0</text>
<text x="385.7" y="283.03" font-size="13" text-anchor="end" fill="#1e1e1e">−<tspan font-family="Liberation Serif" font-size="1.1em">π</tspan>/2</text>
<text x="385.7" y="307.8" font-size="13" text-anchor="end" fill="#1e1e1e">−<tspan font-family="Liberation Serif" font-size="1.1em">π</tspan></text>
<text x="456.7" y="336.6" font-size="14.6" text-anchor="middle" fill="#1e1e1e">Time</text>
<line x1="678.25" y1="302.7" x2="678.25" y2="198.95" stroke="#8a8a8a" stroke-width="1" stroke-dasharray="1 5"/>
<line x1="570.5" y1="276.76" x2="699.8" y2="276.76" stroke="#8a8a8a" stroke-width="1" stroke-dasharray="1 5"/>
<line x1="570.5" y1="250.82" x2="699.8" y2="250.82" stroke="#8a8a8a" stroke-width="1" stroke-dasharray="1 5"/>
<line x1="570.5" y1="224.89" x2="699.8" y2="224.89" stroke="#8a8a8a" stroke-width="1" stroke-dasharray="1 5"/>
<path d="M570.5 276.8 L574.8 262.6 L577.4 255.0 L580.4 247.6 L583.9 241.0 L587.7 235.1 L592.5 229.5 L597.2 225.4 L599.8 223.8 L602.0 222.7 L605.4 221.9 L607.1 221.9 L608.9 222.2 L611.9 223.7 L618.8 228.4 L621.4 229.4 L623.9 229.8 L627.8 229.5 L639.9 226.7 L646.4 225.9 L651.5 226.0 L661.9 227.2 L667.5 227.5 L687.7 226.8 L699.8 226.9" fill="none" stroke="#1e1ed8" stroke-width="2.4" stroke-linejoin="round" stroke-linecap="round"/>
<rect x="570.5" y="198.95" width="129.3" height="103.75" fill="none" stroke="#6e6e6e" stroke-width="1.3"/>
<line x1="570.5" y1="302.7" x2="570.5" y2="300.2" stroke="#6e6e6e" stroke-width="1"/>
<line x1="570.5" y1="198.95" x2="570.5" y2="201.45" stroke="#6e6e6e" stroke-width="1"/>
<line x1="678.25" y1="302.7" x2="678.25" y2="300.2" stroke="#6e6e6e" stroke-width="1"/>
<line x1="678.25" y1="198.95" x2="678.25" y2="201.45" stroke="#6e6e6e" stroke-width="1"/>
<line x1="570.5" y1="302.7" x2="573" y2="302.7" stroke="#6e6e6e" stroke-width="1"/>
<line x1="699.8" y1="302.7" x2="697.3" y2="302.7" stroke="#6e6e6e" stroke-width="1"/>
<line x1="570.5" y1="276.76" x2="573" y2="276.76" stroke="#6e6e6e" stroke-width="1"/>
<line x1="699.8" y1="276.76" x2="697.3" y2="276.76" stroke="#6e6e6e" stroke-width="1"/>
<line x1="570.5" y1="250.82" x2="573" y2="250.82" stroke="#6e6e6e" stroke-width="1"/>
<line x1="699.8" y1="250.82" x2="697.3" y2="250.82" stroke="#6e6e6e" stroke-width="1"/>
<line x1="570.5" y1="224.89" x2="573" y2="224.89" stroke="#6e6e6e" stroke-width="1"/>
<line x1="699.8" y1="224.89" x2="697.3" y2="224.89" stroke="#6e6e6e" stroke-width="1"/>
<line x1="570.5" y1="198.95" x2="573" y2="198.95" stroke="#6e6e6e" stroke-width="1"/>
<line x1="699.8" y1="198.95" x2="697.3" y2="198.95" stroke="#6e6e6e" stroke-width="1"/>
<text x="570.8" y="319.5" font-size="13" text-anchor="middle" fill="#1e1e1e">0</text>
<text x="678.25" y="319.5" font-size="13" text-anchor="middle" fill="#1e1e1e">5</text>
<text x="564.1" y="202.95" font-size="13" text-anchor="end" fill="#1e1e1e"><tspan font-family="Liberation Serif" font-size="1.1em">π</tspan></text>
<text x="564.1" y="230.09" font-size="13" text-anchor="end" fill="#1e1e1e"><tspan font-family="Liberation Serif" font-size="1.1em">π</tspan>/2</text>
<text x="564.1" y="256.02" font-size="13" text-anchor="end" fill="#1e1e1e">0</text>
<text x="564.1" y="281.96" font-size="13" text-anchor="end" fill="#1e1e1e">−<tspan font-family="Liberation Serif" font-size="1.1em">π</tspan>/2</text>
<text x="564.1" y="306.7" font-size="13" text-anchor="end" fill="#1e1e1e">−<tspan font-family="Liberation Serif" font-size="1.1em">π</tspan></text>
<text x="635.15" y="336.6" font-size="14.6" text-anchor="middle" fill="#1e1e1e">Time</text>
<text x="348.7" y="251.5" font-size="14.6" text-anchor="middle" fill="#1e1e1e" transform="rotate(-90 348.7 251.5)">Relative phase (ψ)</text>
</svg></body></html>
